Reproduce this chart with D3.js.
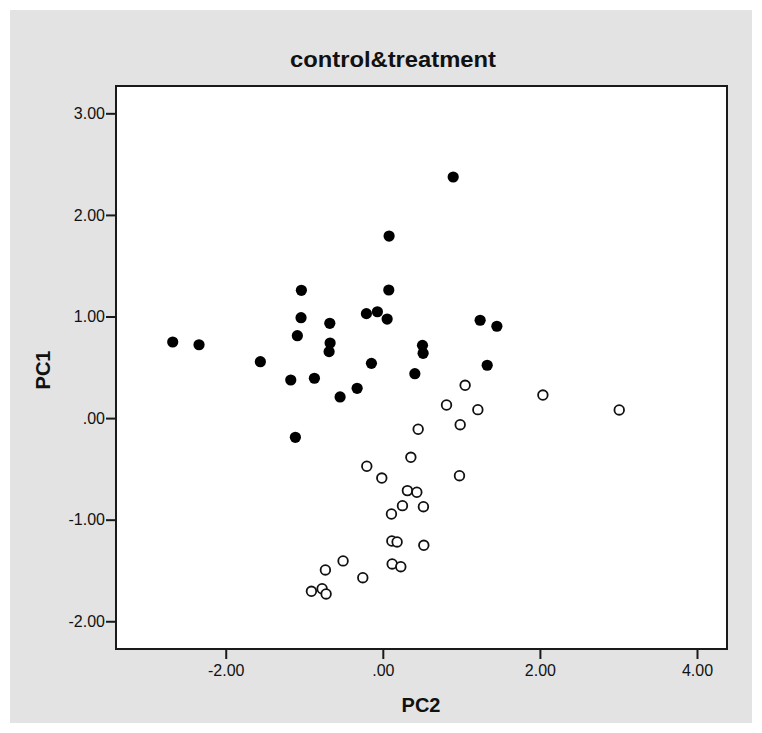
<!DOCTYPE html>
<html>
<head>
<meta charset="utf-8">
<script src="https://cdn.jsdelivr.net/npm/d3@7"></script>
<style>
  html, body { margin: 0; padding: 0; background: #ffffff; }
  svg { display: block; }
  text { font-family: "Liberation Sans", Arial, sans-serif; fill: #111; }
</style>
</head>
<body>
<svg id="chart" width="762" height="733"></svg>
<script>
// ---- data ----
const title = "control&treatment";
const xLabel = "PC2";
const yLabel = "PC1";
const xTicks = [-2, 0, 2, 4];
const yTicks = [-2, -1, 0, 1, 2, 3];

// control group (filled dots): PC2, PC1
const controlPC2 = [-2.675, -2.34, -1.559, -1.172, -1.113, -1.088, -1.037, -1.041, -0.871,
  -0.675, -0.671, -0.684, -0.544, -0.327, -0.209, -0.069, -0.145, 0.055, 0.076, 0.080,
  0.896, 1.239, 1.452, 0.505, 0.513, 0.408, 1.329];
const controlPC1 = [0.749, 0.722, 0.555, 0.375, -0.189, 0.811, 1.258, 0.988, 0.392,
  0.933, 0.739, 0.654, 0.208, 0.293, 1.028, 1.047, 0.539, 0.975, 1.261, 1.792,
  2.373, 0.963, 0.904, 0.716, 0.638, 0.437, 0.520];

// treatment group (open circles): PC2, PC1
const treatPC2 = [1.048, 2.038, 3.010, 0.811, 1.210, 0.985, 0.450, 0.357, -0.204, -0.013,
  0.976, 0.313, 0.433, 0.250, 0.517, 0.110, 0.115, 0.182, 0.522, 0.119, 0.229,
  -0.506, -0.731, -0.255, -0.909, -0.773, -0.722];
const treatPC1 = [0.323, 0.227, 0.080, 0.129, 0.083, -0.065, -0.110, -0.386, -0.474, -0.590,
  -0.567, -0.714, -0.730, -0.862, -0.872, -0.944, -1.210, -1.219, -1.252, -1.436, -1.463,
  -1.406, -1.495, -1.571, -1.705, -1.679, -1.731];

// ---- layout ----
const svg = d3.select("#chart");
const plot = { left: 116, right: 727, top: 86, bottom: 649 };

svg.append("rect").attr("x", 10).attr("y", 10).attr("width", 742).attr("height", 713)
  .attr("fill", "#e3e3e3");

const x = d3.scaleLinear().domain([-3.397, 4.382]).range([plot.left, plot.right]);
const y = d3.scaleLinear().domain([-2.273, 3.269]).range([plot.bottom, plot.top]);

svg.append("rect")
  .attr("x", plot.left).attr("y", plot.top)
  .attr("width", plot.right - plot.left).attr("height", plot.bottom - plot.top)
  .attr("fill", "#ffffff").attr("stroke", "#1a1a1a").attr("stroke-width", 2);

const fmt = v => v === 0 ? ".00" : (v < 0 ? "-" : "") + Math.abs(v).toFixed(2);

const xAxis = svg.append("g").attr("transform", `translate(0,${plot.bottom})`)
  .call(d3.axisBottom(x).tickValues(xTicks).tickFormat(fmt).tickSizeOuter(0).tickSize(10).tickPadding(6));
const yAxis = svg.append("g").attr("transform", `translate(${plot.left},0)`)
  .call(d3.axisLeft(y).tickValues(yTicks).tickFormat(fmt).tickSizeOuter(0).tickSize(10).tickPadding(1));

[xAxis, yAxis].forEach(g => {
  g.select(".domain").remove();
  g.attr("font-size", null).attr("font-family", null);
  g.selectAll(".tick line").attr("stroke", "#1a1a1a").attr("stroke-width", 2);
  g.selectAll(".tick text").attr("fill", "#111")
    .attr("font-family", '"Liberation Sans", Arial, sans-serif')
    .attr("font-size", 16)
    .style("font-size", "16px");
});

// points
const control = controlPC2.map((v, i) => ({ x: v, y: controlPC1[i] }));
const treat = treatPC2.map((v, i) => ({ x: v, y: treatPC1[i] }));

svg.append("g").selectAll("circle").data(treat).join("circle")
  .attr("cx", d => x(d.x)).attr("cy", d => y(d.y)).attr("r", 4.8)
  .attr("fill", "#ffffff").attr("stroke", "#111").attr("stroke-width", 1.8);

svg.append("g").selectAll("circle").data(control).join("circle")
  .attr("cx", d => x(d.x)).attr("cy", d => y(d.y)).attr("r", 5.6)
  .attr("fill", "#000");

// titles
svg.append("text").attr("x", 393).attr("y", 67).attr("text-anchor", "middle")
  .attr("textLength", 206).attr("lengthAdjust", "spacingAndGlyphs")
  .style("font-size", "22px").style("font-weight", "bold").text(title);

svg.append("text").attr("x", 421).attr("y", 712).attr("text-anchor", "middle")
  .style("font-size", "20px").style("font-weight", "bold").text(xLabel);

svg.append("text").attr("transform", "translate(50,370) rotate(-90)").attr("text-anchor", "middle")
  .style("font-size", "20px").style("font-weight", "bold").text(yLabel);
</script>
</body>
</html>
